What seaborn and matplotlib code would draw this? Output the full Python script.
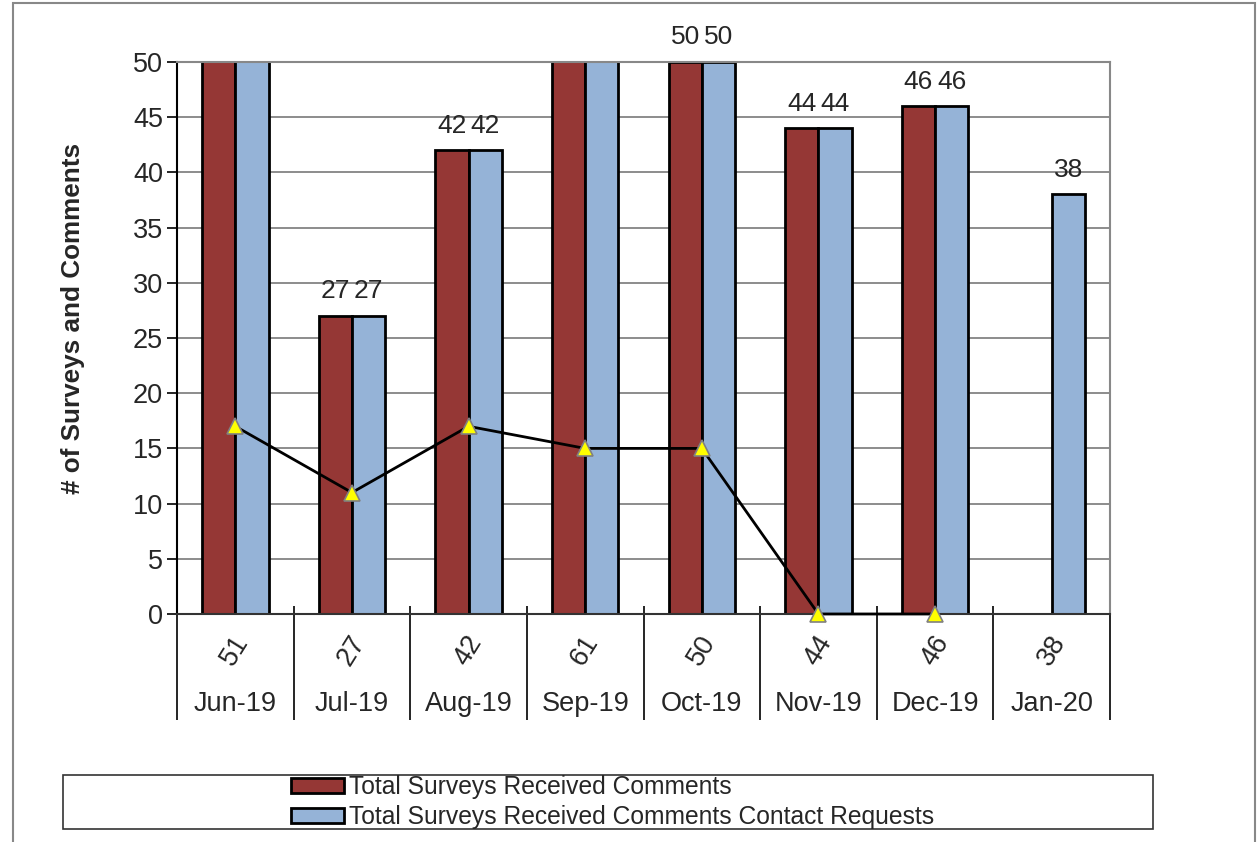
import numpy as np
import pandas as pd
import matplotlib
matplotlib.use("Agg")
import matplotlib.pyplot as plt
import seaborn as sns
from matplotlib.patches import Rectangle
from matplotlib.transforms import blended_transform_factory

# -----------------------
# DATA
# -----------------------
months = ['Jun-19', 'Jul-19', 'Aug-19', 'Sep-19', 'Oct-19', 'Nov-19', 'Dec-19', 'Jan-20']
totals = [51, 27, 42, 61, 50, 44, 46, 38]
received_comments = [51, 27, 42, 61, 50, 44, 46, np.nan]
contact_requests = [51, 27, 42, 61, 50, 44, 46, 38]
trend = [17, 11, 17, 15, 15, 0, 0, np.nan]

series_names = ['Total Surveys Received Comments',
                'Total Surveys Received Comments Contact Requests']
colors = ['#953735', '#95B3D7']

# -----------------------
# STYLE
# -----------------------
sns.set_style("white")
plt.rcParams['font.family'] = ['Liberation Sans', 'DejaVu Sans']

df = pd.DataFrame({
    'month': months * 2,
    'count': received_comments + contact_requests,
    'series': [series_names[0]] * len(months) + [series_names[1]] * len(months),
})

fig, ax = plt.subplots(figsize=(12.58, 8.42), dpi=100)
fig.subplots_adjust(left=177 / 1258, right=1110 / 1258, top=1 - 62 / 842, bottom=1 - 614 / 842)

sns.barplot(
    data=df, x='month', y='count', hue='series', order=months, hue_order=series_names,
    palette=colors, width=0.57, edgecolor='black', linewidth=2, saturation=1, ax=ax,
)

# labels only where the bar fits inside the axis range
for c in ax.containers:
    labels = [f"{v:.0f}" if v <= 50 else "" for v in c.datavalues]
    ax.bar_label(c, labels=labels, padding=9, fontsize=19)

# trend line
ax.plot(range(len(months)), trend, color='black', lw=2, marker='^', markersize=11,
        markerfacecolor='#FFFF00', markeredgecolor='#808080', markeredgewidth=1.2,
        clip_on=False, zorder=5)

ax.set_ylim(0, 50)
ax.set_yticks(range(0, 51, 5))
ax.set_xlim(-0.5, len(months) - 0.5)
ax.yaxis.grid(True, color='#8c8c8c', lw=1.4)
ax.set_axisbelow(True)
ax.tick_params(axis='y', labelsize=19.5, length=7, width=1.2, color='black', direction='out',
               left=True, pad=3)
ax.tick_params(axis='x', length=0, labelbottom=False)
ax.set_xlabel('')
ax.set_ylabel('# of Surveys and Comments', fontsize=18.8, fontweight='bold')
ax.yaxis.set_label_coords(-0.099, 0.536)

for side in ['top', 'right']:
    ax.spines[side].set_color('#888888')
    ax.spines[side].set_linewidth(1.5)
ax.spines['left'].set_color('black')
ax.spines['left'].set_linewidth(1.5)
ax.spines['bottom'].set_color('#333333')
ax.spines['bottom'].set_linewidth(1.5)

# two-level category axis
trans = blended_transform_factory(ax.transData, ax.transAxes)
for i, (m, t) in enumerate(zip(months, totals)):
    ax.text(i, -0.066, str(t), rotation=58, ha='center', va='center',
            transform=trans, fontsize=19.5)
    ax.text(i, -0.163, m, ha='center', va='center', transform=trans, fontsize=19.5)
ax.vlines(np.arange(len(months) + 1) - 0.5, -0.192, 0.015, transform=trans,
          color='black', lw=1.2, clip_on=False)

# legend in a wide box below
handles, labels = ax.get_legend_handles_labels()
if ax.get_legend() is not None:
    ax.get_legend().remove()
for h in handles:
    h.set_edgecolor('black')
    h.set_linewidth(2)
fig.legend(handles, labels, loc='center left', bbox_to_anchor=(279 / 1258, 1 - 802 / 842),
           frameon=False, fontsize=17.7, handlelength=2.15, handleheight=0.55,
           handletextpad=0.2, labelspacing=0.24, borderpad=0)
fig.patches.append(Rectangle((63 / 1258, 1 - 829 / 842), 1090 / 1258, 54 / 842,
                             transform=fig.transFigure, fill=False,
                             edgecolor='#333333', lw=1.2))
# outer chart frame
fig.patches.append(Rectangle((13 / 1258, -0.01), 1242 / 1258, 1.01 - 3 / 842,
                             transform=fig.transFigure, fill=False,
                             edgecolor='#888888', lw=1.5))

fig.savefig('out.png', dpi=100)
